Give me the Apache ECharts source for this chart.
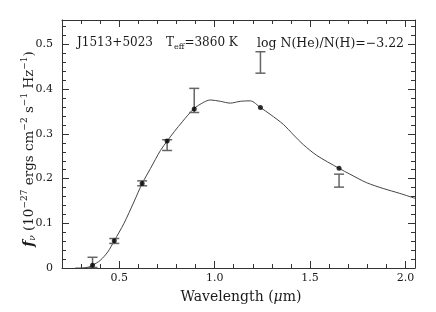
<!DOCTYPE html>
<html><head><meta charset="utf-8">
<script src="https://cdn.jsdelivr.net/npm/echarts@6/dist/echarts.min.js"></script>
<style>html,body{margin:0;padding:0;background:#fff}#c{width:436px;height:312px}</style>
</head><body><div id="c"></div>
<script>
// model spectrum
var modelWave = [0.27,0.30,0.34,0.36,0.40,0.44,0.474,0.525,0.577,0.62,0.664,0.716,0.751,0.79,0.83,0.89,0.943,0.978,1.03,1.082,1.134,1.187,1.24,1.291,1.361,1.413,1.465,1.535,1.652,1.709,1.796,1.883,1.970,2.05];
var modelFlux = [0.0,0.0,0.002,0.006,0.017,0.036,0.061,0.100,0.148,0.189,0.223,0.263,0.284,0.306,0.327,0.356,0.371,0.376,0.373,0.369,0.373,0.374,0.359,0.344,0.321,0.298,0.276,0.252,0.223,0.210,0.191,0.178,0.167,0.156];
// model fluxes in the bands (dots)
var bandWave = [0.36,0.474,0.62,0.751,0.893,1.24,1.652];
var bandFlux = [0.006,0.061,0.189,0.284,0.356,0.359,0.223];
// observed photometry (error bars)
var obsLow  = [0.001,0.055,0.184,0.263,0.348,0.436,0.181];
var obsHigh = [0.024,0.066,0.195,0.287,0.402,0.484,0.210];
// ticks
var xMajor = [0.5,1.0,1.5,2.0];
var xMinor = [0.2,0.3,0.4,0.5,0.6,0.7,0.8,0.9,1.0,1.1,1.2,1.3,1.4,1.5,1.6,1.7,1.8,1.9,2.0];
var yMajor = [0,0.1,0.2,0.3,0.4,0.5];
var yMinor = [0,0.02,0.04,0.06,0.08,0.1,0.12,0.14,0.16,0.18,0.2,0.22,0.24,0.26,0.28,0.3,0.32,0.34,0.36,0.38,0.4,0.42,0.44,0.46,0.48,0.5,0.52,0.54];

var FONT = 'DejaVu Serif';
var ink = '#1a1a1a';
var chart = echarts.init(document.getElementById('c'));

function xAx(pos, ticks, len, labels, line) {
  return {
    type:'value', position:pos, min:0.2, max:2.05,
    axisLine:{show:line, onZero:false, lineStyle:{color:'#333', width:1}},
    axisTick:{show:true, inside:true, length:len, customValues:ticks, lineStyle:{color:'#333'}},
    axisLabel:{show:!!labels, customValues:labels||[], margin:5, fontFamily:FONT, fontSize:11, color:ink,
      formatter:function(v){return v.toFixed(1);}},
    splitLine:{show:false}
  };
}
function yAx(pos, ticks, len, labels, line) {
  return {
    type:'value', position:pos, min:0, max:0.555,
    axisLine:{show:line, onZero:false, lineStyle:{color:'#333', width:1}},
    axisTick:{show:true, inside:true, length:len, customValues:ticks, lineStyle:{color:'#333'}},
    axisLabel:{show:!!labels, customValues:labels||[], margin:9, fontFamily:FONT, fontSize:11, color:ink,
      formatter:function(v){return v===0?'0':v.toFixed(1);}},
    splitLine:{show:false}
  };
}

var modelData = modelWave.map(function(w,i){return [w, modelFlux[i]];});
var dotData = bandWave.map(function(w,i){return [w, bandFlux[i]];});
var errData = bandWave.map(function(w,i){return [w, obsLow[i], obsHigh[i]];});

chart.setOption({
  animation:false,
  backgroundColor:'#fff',
  grid:{left:62, right:21, top:20, bottom:44},
  xAxis:[
    xAx('bottom', xMajor, 7, xMajor, true),
    xAx('bottom', xMinor, 4, null, false),
    xAx('top', xMajor, 7, null, true),
    xAx('top', xMinor, 4, null, false)
  ],
  yAxis:[
    yAx('left', yMajor, 7, yMajor, true),
    yAx('left', yMinor, 4, null, false),
    yAx('right', yMajor, 7, null, true),
    yAx('right', yMinor, 4, null, false)
  ],
  series:[
    {type:'line', data:modelData, smooth:0.3, symbol:'none', lineStyle:{color:'#444', width:1}, z:2},
    {type:'custom', data:errData, z:3,
      renderItem:function(params, api){
        var lo = api.coord([api.value(0), api.value(1)]);
        var hi = api.coord([api.value(0), api.value(2)]);
        var w = 5;
        var st = {stroke:'#666', lineWidth:1.5};
        return {type:'group', children:[
          {type:'line', shape:{x1:lo[0], y1:lo[1], x2:hi[0], y2:hi[1]}, style:st},
          {type:'line', shape:{x1:lo[0]-w, y1:lo[1], x2:lo[0]+w, y2:lo[1]}, style:st},
          {type:'line', shape:{x1:hi[0]-w, y1:hi[1], x2:hi[0]+w, y2:hi[1]}, style:st}
        ]};
      }},
    {type:'scatter', data:dotData, symbol:'circle', symbolSize:5, itemStyle:{color:'#000'}, z:4}
  ],
  graphic:[
    {type:'text', left:77, top:37, style:{text:'J1513+5023', font:'12px "DejaVu Serif"', fill:ink}},
    {type:'text', left:166, top:37, style:{rich:{
        a:{fontFamily:FONT, fontSize:12, fill:ink},
        s:{fontFamily:FONT, fontSize:8, fill:ink, padding:[7,0,0,0]}},
      text:'{a|T}{s|eff}{a|=3860 K}'}},
    {type:'text', left:257, top:37, style:{text:'log N(He)/N(H)=\u22123.22', font:'12.5px "DejaVu Serif"', fill:ink}},
    {type:'text', x:241, y:297, style:{rich:{
        a:{fontFamily:FONT, fontSize:14, fill:ink},
        i:{fontFamily:FONT, fontSize:14, fontStyle:'italic', fill:ink}},
      text:'{a|Wavelength (}{i|\u03bc}{a|m)}', align:'center', verticalAlign:'middle'}},
    {type:'text', x:29, y:149, rotation:Math.PI/2, style:{rich:{
        a:{fontFamily:FONT, fontSize:13.5, fill:ink},
        f:{fontFamily:FONT, fontSize:14, fontStyle:'italic', fontWeight:'bold', fill:ink},
        sb:{fontFamily:FONT, fontSize:9, fontStyle:'italic', fill:ink, padding:[8,0,0,0]},
        sp:{fontFamily:FONT, fontSize:9, fill:ink, padding:[0,0,8,0]}},
      text:'{f|f}{sb|\u03bd}{a| (10}{sp|\u221227}{a| ergs cm}{sp|\u22122}{a| s}{sp|\u22121}{a| Hz}{sp|\u22121}{a|)}',
      align:'center', verticalAlign:'middle'}}
  ]
});
</script></body></html>
